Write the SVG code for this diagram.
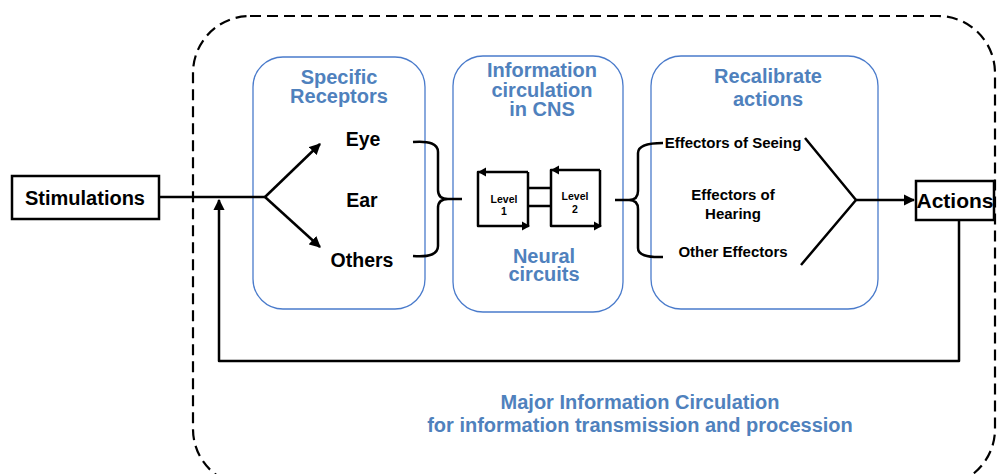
<svg xmlns="http://www.w3.org/2000/svg" width="997" height="474" viewBox="0 0 997 474">
<defs>
<style>
.t{font-family:"Liberation Sans",Arial,sans-serif;font-weight:bold;fill:#000;text-anchor:middle}
.b{font-family:"Liberation Sans",Arial,sans-serif;font-weight:bold;fill:#4F81BD;text-anchor:middle;font-size:20px}
.panel{fill:none;stroke:#4A7BCB;stroke-width:1.3}
.ln{fill:none;stroke:#000;stroke-width:2.5;stroke-linejoin:round}
.box{fill:#fff;stroke:#000;stroke-width:2.5}
</style>
<marker id="ah" viewBox="0 0 10 10" refX="9" refY="5" markerWidth="4.5" markerHeight="4.5" orient="auto" markerUnits="strokeWidth">
<path d="M0,0 L10,5 L0,10 z" fill="#000"/>
</marker>
</defs>
<rect width="997" height="474" fill="#fff"/>

<g id="outer">
<rect x="193" y="16" width="802" height="470" rx="57" ry="57" fill="none" stroke="#000" stroke-width="2.2" stroke-dasharray="11,6"/>
</g>

<g id="panel-receptors">
<rect class="panel" x="253" y="57" width="172" height="252" rx="30"/>
<text class="b" x="339" y="84">Specific</text>
<text class="b" x="339" y="103">Receptors</text>
</g>
<g id="panel-cns">
<rect class="panel" x="453" y="56" width="170" height="256" rx="30"/>
<text class="b" x="542" y="77">Information</text>
<text class="b" x="542" y="97">circulation</text>
<text class="b" x="542" y="116">in CNS</text>
<text class="b" x="544" y="263" font-size="19.5">Neural</text>
<text class="b" x="544" y="281" font-size="19.5">circuits</text>
</g>
<g id="panel-recalibrate">
<rect class="panel" x="651" y="56" width="227" height="253" rx="30"/>
<text class="b" x="768" y="83">Recalibrate</text>
<text class="b" x="768" y="106">actions</text>
</g>

<g id="stimulations">
<rect class="box" x="12" y="176" width="147" height="43"/>
<text class="t" x="85" y="205" font-size="20">Stimulations</text>
</g>
<g id="actions">
<rect class="box" x="916" y="181" width="78" height="39"/>
<text class="t" x="955" y="208" font-size="21">Actions</text>
</g>

<g id="receptors">
<text class="t" x="363" y="146" font-size="19.5">Eye</text>
<text class="t" x="362" y="207" font-size="19.5">Ear</text>
<text class="t" x="362" y="267" font-size="19.5">Others</text>
</g>

<g id="level1">
<path class="ln" d="M528,172 L478,172 L478,226 L528,226 L528,172" stroke-width="2.2"/>
<path d="M478,167.5 L486,172 L478,176.5 Z" fill="#000" transform="rotate(180 482 172)"/>
<path d="M528,221.5 L536,226 L528,230.5 Z" fill="#000" transform="translate(-6 0)"/>
<text class="t" x="504" y="203" font-size="10.5">Level</text>
<text class="t" x="504" y="215" font-size="10.5">1</text>
</g>
<g id="level2">
<path class="ln" d="M600,170 L551,170 L551,226 L600,226 L600,170" stroke-width="2.2"/>
<path d="M551,165.5 L559,170 L551,174.5 Z" fill="#000" transform="rotate(180 555 170)"/>
<path d="M594,221.5 L602,226 L594,230.5 Z" fill="#000"/>
<text class="t" x="575" y="200" font-size="10.5">Level</text>
<text class="t" x="575" y="213" font-size="10.5">2</text>
</g>

<g id="effectors">
<text class="t" x="733" y="148" font-size="15">Effectors of Seeing</text>
<text class="t" x="733" y="200" font-size="15">Effectors of</text>
<text class="t" x="733" y="219" font-size="15">Hearing</text>
<text class="t" x="733" y="257" font-size="15">Other Effectors</text>
</g>

<g id="connectors">
<path class="ln" d="M159,197 L265,197"/>
<path class="ln" d="M265,197 L320,144" marker-end="url(#ah)"/>
<path class="ln" d="M265,197 L320,247" marker-end="url(#ah)"/>
<path class="ln" d="M413,142 Q438,140 438,152 L438,190 Q438,199 448,199 L462,199 M448,199 Q438,199 438,208 L438,246 Q438,258 413,256"/>
<path class="ln" d="M528,188 L551,188 M528,206 L551,206" stroke-width="2.2"/>
<path class="ln" d="M615,200 L629,200 Q638,200 638,191 L638,153 Q638,143 663,143 M629,200 Q638,200 638,209 L638,248 Q638,258 663,257"/>
<path class="ln" d="M805,138 L856,200 L801,265"/>
<path class="ln" d="M856,200 L914,200" marker-end="url(#ah)" stroke-width="2.2"/>
<path class="ln" d="M959,220 L959,361 L219,361 L219,200" marker-end="url(#ah)"/>
</g>

<g id="caption">
<text class="b" x="640" y="409">Major Information Circulation</text>
<text class="b" x="640" y="432">for information transmission and procession</text>
</g>
</svg>
